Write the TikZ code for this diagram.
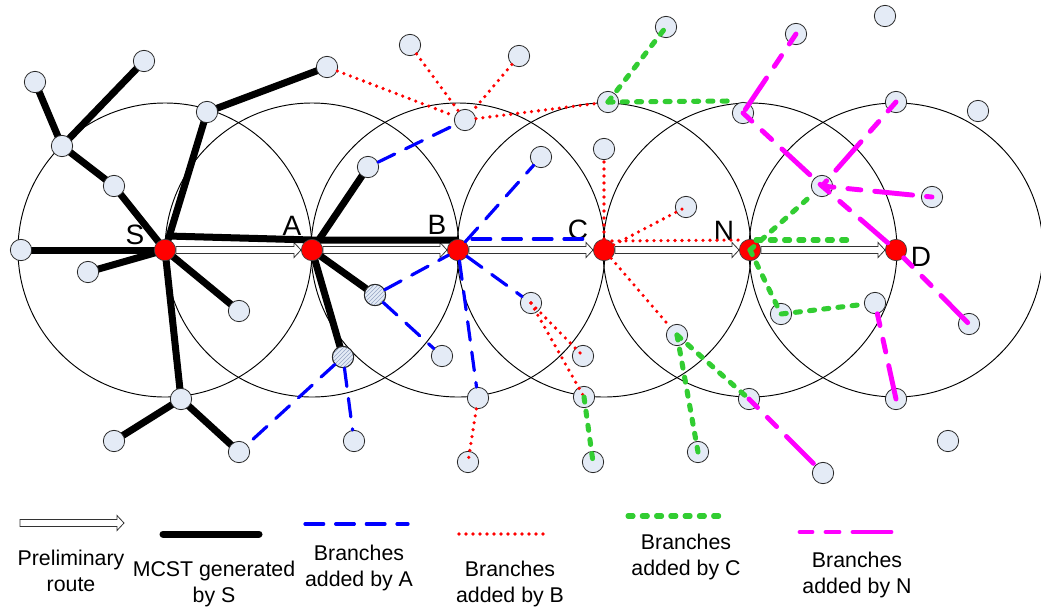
\documentclass[tikz,border=0pt]{standalone}
\usepackage{fontspec}
\setmainfont{Liberation Sans}
\usetikzlibrary{calc,patterns}

\definecolor{nodefill}{RGB}{228,235,246}
\definecolor{hatchcol}{RGB}{150,165,195}
\definecolor{bluebr}{RGB}{0,0,255}
\definecolor{redbr}{RGB}{255,0,0}
\definecolor{greenbr}{RGB}{50,205,50}
\definecolor{magbr}{RGB}{255,0,255}

\pgfdeclarelayer{bg}
\pgfdeclarelayer{fg}
\pgfsetlayers{bg,main,fg}

\tikzset{
  host/.style={circle, draw=black!85, line width=0.6pt, fill=nodefill,
    minimum size=16pt, inner sep=0pt},
  hatched/.style={host, postaction={pattern=north east lines,
    pattern color=hatchcol}, postaction={draw=black!85, line width=0.6pt}},
  router/.style={circle, draw=black!75, line width=0.5pt, fill=red,
    minimum size=16pt, inner sep=0pt},
  lab/.style={inner sep=0pt, font=\fontsize{21}{25}\selectfont},
  legtext/.style={align=center, inner sep=0pt,
    font=\fontsize{16}{19.5}\selectfont},
  rangecircle/.style={draw=black, line width=0.7pt},
  mcst/.style={draw=black, line width=5.25pt, line cap=round},
  brA/.style={draw=bluebr, line width=2.4pt, line cap=round,
    dash pattern=on 14pt off 9pt},
  brB/.style={draw=redbr, line width=2.7pt, line cap=round,
    dash pattern=on 0pt off 5.25pt},
  brC/.style={draw=greenbr, line width=3.8pt, line cap=round,
    dash pattern=on 3.8pt off 6.9pt},
  brN/.style={draw=magbr, line width=3.7pt, line cap=round,
    dash pattern=on 9pt off 10.5pt on 9.75pt off 10.5pt on 28.5pt off 10.5pt},
  route/.style={draw=black!80, line width=0.6pt, fill=white,
    to path={($(\tikztostart)+(0,-3.5)$) -- ($(\tikztotarget)+(-7,-3.5)$)
      -- ($(\tikztotarget)+(-7,-7.5)$) -- (\tikztotarget)
      -- ($(\tikztotarget)+(-7,7.5)$) -- ($(\tikztotarget)+(-7,3.5)$)
      -- ($(\tikztostart)+(0,3.5)$) -- cycle}}
}

\begin{document}
\begin{tikzpicture}[x=0.75pt, y=-0.75pt]
\useasboundingbox (0,0) rectangle (1041,615);

% routers on the preliminary route
\node[router] (S) at (165,250) {};
\node[router] (A) at (312,250) {};
\node[router] (B) at (458,250) {};
\node[router] (C) at (604,250) {};
\node[router] (N) at (750,250) {};
\node[router] (D) at (896,250) {};

\node[lab] at (135,235) {S};
\node[lab] at (292,226) {A};
\node[lab] at (437,225) {B};
\node[lab] at (578,230) {C};
\node[lab] at (724,231) {N};
\node[lab] at (921,257) {D};

% other hosts
\node[host] (h01) at (35,82) {};
\node[host] (h02) at (144,61) {};
\node[host] (h03) at (62,146) {};
\node[host] (h04) at (114,186) {};
\node[host] (h05) at (207,112) {};
\node[host] (h06) at (327,67) {};
\node[host] (h07) at (21,250) {};
\node[host] (h08) at (88,272) {};
\node[host] (h09) at (239,311) {};
\node[host] (h10) at (181,399) {};
\node[host] (h11) at (114,441) {};
\node[host] (h12) at (239,452) {};
\node[host] (h13) at (368,167) {};
\node[hatched] (h14) at (375,295) {};
\node[hatched] (h15) at (343,357) {};
\node[host] (h16) at (354,441) {};
\node[host] (h17) at (442,356) {};
\node[host] (h18) at (410,45) {};
\node[host] (h19) at (519,56) {};
\node[host] (h20) at (465,120) {};
\node[host] (h21) at (541,157) {};
\node[host] (h22) at (531,303) {};
\node[host] (h23) at (478,398) {};
\node[host] (h24) at (468,462) {};
\node[host] (h25) at (583,356) {};
\node[host] (h26) at (584,397) {};
\node[host] (h27) at (593,462) {};
\node[host] (h28) at (608,102) {};
\node[host] (h29) at (604,149) {};
\node[host] (h30) at (666,27) {};
\node[host] (h31) at (686,207) {};
\node[host] (h32) at (677,335) {};
\node[host] (h33) at (698,452) {};
\node[host] (h34) at (749,399) {};
\node[host] (h35) at (743,113) {};
\node[host] (h36) at (796,34) {};
\node[host] (h37) at (885,16) {};
\node[host] (h38) at (896,102) {};
\node[host] (h39) at (978,111) {};
\node[host] (h40) at (822,186) {};
\node[host] (h41) at (932,197) {};
\node[host] (h42) at (781,314) {};
\node[host] (h43) at (875,303) {};
\node[host] (h44) at (969,324) {};
\node[host] (h45) at (896,399) {};
\node[host] (h46) at (948,441) {};
\node[host] (h47) at (823,473) {};

% free ends of open green branches
\coordinate (g1) at (730,101);
\coordinate (g2) at (852,240);

\begin{pgfonlayer}{bg}
  % transmission ranges
  \foreach \r in {S,A,B,C,N,D}
    \draw[rangecircle] (\r.center) circle[radius=147];
  % preliminary route
  \draw[route] (S.east) to (A.west);
  \draw[route] (A.east) to (B.west);
  \draw[route] (B.east) to (C.west);
  \draw[route] (C.east) to (N.west);
  \draw[route] (N.east) to (D.west);
  % MCST generated by S
  \draw[mcst] (S.center) -- (h07.center);
  \draw[mcst] (S.center) -- (h08.center);
  \draw[mcst] (S.center) -- (h09.center);
  \draw[mcst] (S.center) -- (h10.center) -- (h11.center);
  \draw[mcst] (h10.center) -- (h12.center);
  \draw[mcst] (S.center) -- (h04.center) -- (h03.center) -- (h01.center);
  \draw[mcst] (h03.center) -- (h02.center);
  \draw[mcst] (S.center) -- (h05.center) -- (h06.center);
  \draw[mcst] (A.center) -- (h13.center);
  \draw[mcst] (A.center) -- (h14.center);
  \draw[mcst] (A.center) -- (h15.center);
  \draw[mcst, line cap=butt] ($(S)+(3,-14)$) -- ($(A)+(0,-10)$) -- ($(B)+(0,-10)$);
\end{pgfonlayer}

\begin{pgfonlayer}{fg}
  % branches added by A
  \draw[brA] (h13) -- (h20);
  \draw[brA] (h14) -- (B);
  \draw[brA] (h14) -- (h17);
  \draw[brA] (h15) -- (h12);
  \draw[brA] (h15) -- (h16);
  \draw[brA] (B) -- (h21);
  \draw[brA] (B) -- (h22);
  \draw[brA] (B) -- (h23);
  \draw[brA] ($(B)+(14,-11)$) -- ($(C)+(-10,-11)$);
  % branches added by B
  \draw[brB] (h06) -- (h20);
  \draw[brB] (h18) -- (h20);
  \draw[brB] (h19) -- (h20);
  \draw[brB] (h20) -- (h28);
  \draw[brB] (C) -- (h29);
  \draw[brB] (C) -- (h31.center);
  \draw[brB] (C) -- (h32);
  \draw[brB] (h22.center) -- (h25.center);
  \draw[brB] (h22.center) -- (h26.center);
  \draw[brB] (h23) -- (h24.center);
  \draw[brB] ($(C)+(8,-9)$) -- ($(N)+(-6,-10)$);
  % branches added by C
  \draw[brC] (h28.center) -- (h30.center);
  \draw[brC] (h28.center) -- (g1);
  \draw[brC] (N.center) -- (h40);
  \draw[brC] ($(N)+(6,-10)$) -- (g2);
  \draw[brC] (N.center) -- (h42.center) -- (h43);
  \draw[brC] (h26.center) -- (h27.center);
  \draw[brC] (h32.center) -- (h33.center);
  \draw[brC] (h32.center) -- (h34.center);
  % branches added by N
  \draw[brN] (h36.center) -- (h35.center);
  \draw[brN] (h35.center) -- (h40.center) -- (D);
  \draw[brN] (h38.center) -- (h40.center);
  \draw[brN] (h40.center) -- (h41.center);
  \draw[brN] (D) -- (h44.center);
  \draw[brN] (h43) -- (h45.center);
  \draw[brN] (h34.center) -- (h47.center);
\end{pgfonlayer}

% legend
\coordinate (la1) at (20,523);
\coordinate (la2) at (124,523);
\draw[route] (la1) to (la2);
\node[legtext] (lt1) at (71,571) {Preliminary\\route};

\coordinate (lm1) at (163,534);
\coordinate (lm2) at (259,534);
\draw[mcst] (lm1) -- (lm2);
\node[legtext] (lt2) at (214,584) {MCST generated\\by S};

\coordinate (lb1) at (305,524);
\coordinate (lb2) at (408,524);
\draw[brA] (lb1) -- (lb2);
\node[legtext] (lt3) at (359,568) {Branches\\added by A};

\coordinate (lr1) at (459,534);
\coordinate (lr2) at (549,534);
\draw[brB] (lr1) -- (lr2);
\node[legtext] (lt4) at (510,584) {Branches\\added by B};

\coordinate (lg1) at (628,516);
\coordinate (lg2) at (722,516);
\draw[brC] (lg1) -- (lg2);
\node[legtext] (lt5) at (686,557) {Branches\\added by C};

\coordinate (ln1) at (800,532);
\coordinate (ln2) at (891,532);
\draw[brN] (ln1) -- (ln2);
\node[legtext] (lt6) at (857,575) {Branches\\added by N};
\end{tikzpicture}
\end{document}
